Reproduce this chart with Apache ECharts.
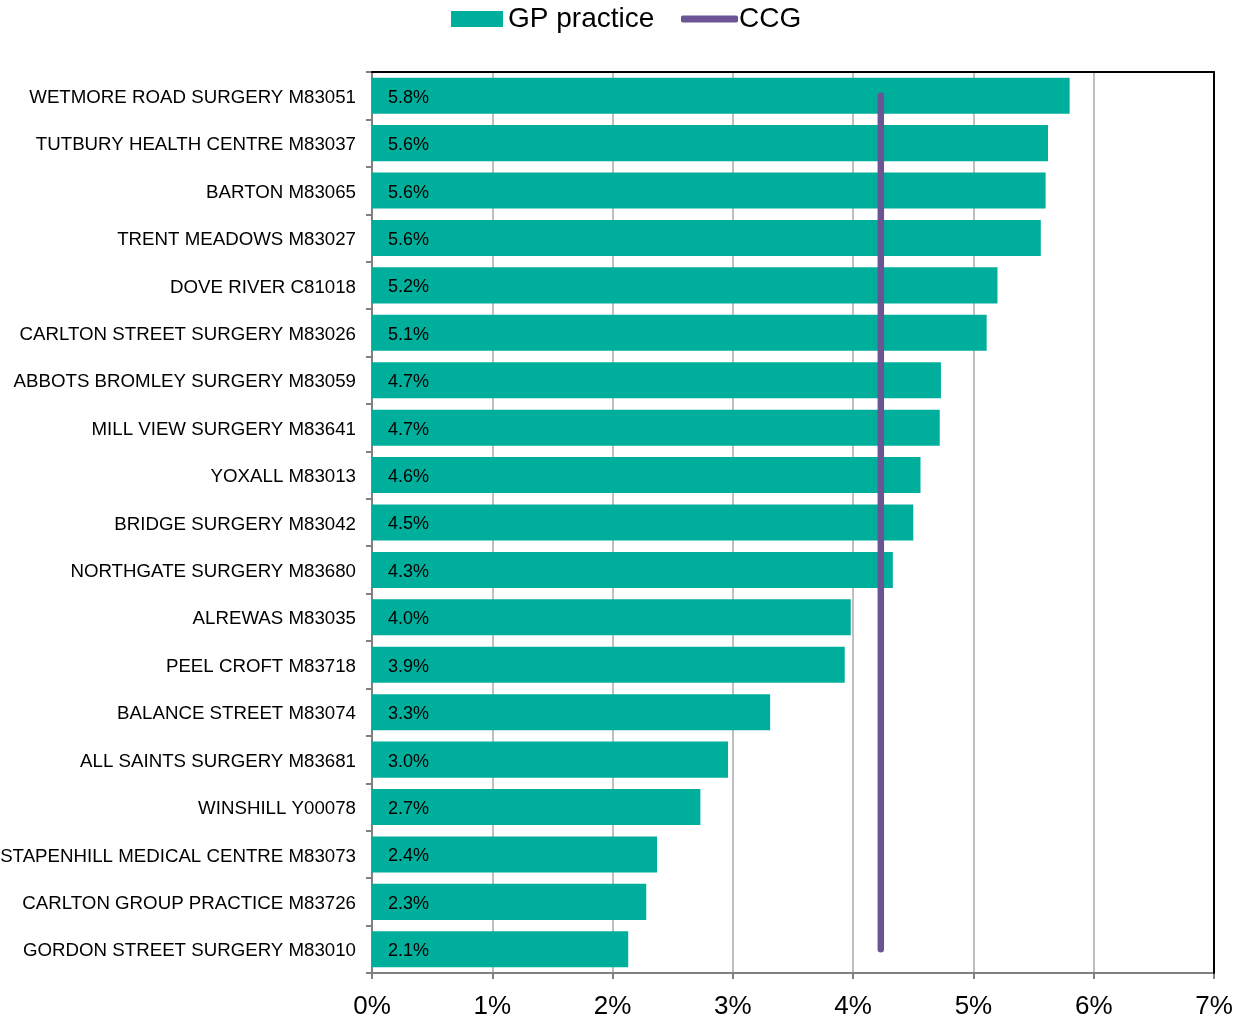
<!DOCTYPE html>
<html>
<head>
<meta charset="utf-8">
<script src="https://cdn.jsdelivr.net/npm/echarts@6/dist/echarts.min.js"></script>
<style>
html,body{margin:0;padding:0;background:#fff;}
#chart{width:1236px;height:1019px;}
</style>
</head>
<body>
<div id="chart"></div>
<script>
const practices = [
  'WETMORE ROAD SURGERY M83051',
  'TUTBURY HEALTH CENTRE M83037',
  'BARTON M83065',
  'TRENT MEADOWS M83027',
  'DOVE RIVER C81018',
  'CARLTON STREET SURGERY M83026',
  'ABBOTS BROMLEY SURGERY M83059',
  'MILL VIEW SURGERY M83641',
  'YOXALL M83013',
  'BRIDGE SURGERY M83042',
  'NORTHGATE SURGERY M83680',
  'ALREWAS M83035',
  'PEEL CROFT M83718',
  'BALANCE STREET M83074',
  'ALL SAINTS SURGERY M83681',
  'WINSHILL Y00078',
  'STAPENHILL MEDICAL CENTRE M83073',
  'CARLTON GROUP PRACTICE M83726',
  'GORDON STREET SURGERY M83010'
];
const gpValues = [5.80, 5.62, 5.60, 5.56, 5.20, 5.11, 4.73, 4.72, 4.56, 4.50, 4.33, 3.98, 3.93, 3.31, 2.96, 2.73, 2.37, 2.28, 2.13];
const ccgValues = [4.23, 4.23, 4.23, 4.23, 4.23, 4.23, 4.23, 4.23, 4.23, 4.23, 4.23, 4.23, 4.23, 4.23, 4.23, 4.23, 4.23, 4.23, 4.23];
const xTicks = [0, 1, 2, 3, 4, 5, 6, 7];

const chart = echarts.init(document.getElementById('chart'), null, {renderer: 'canvas'});
const FONT = 'Liberation Sans, Arial, sans-serif';
chart.setOption({
  animation: false,
  textStyle: {fontFamily: FONT},
  legend: [
    {
      data: ['GP practice'],
      left: 451, top: 5, padding: 0,
      itemWidth: 52, itemHeight: 16, icon: 'rect', itemGap: 0,
      textStyle: {fontSize: 28, color: '#000', fontFamily: FONT}
    },
    {
      data: ['CCG'],
      left: 681, top: 5, padding: 0,
      itemWidth: 57, itemHeight: 7, icon: 'roundRect',
      itemStyle: {color: '#6B5494'},
      textStyle: {fontSize: 28, color: '#000', fontFamily: FONT, padding: [0, 0, 0, -4]}
    }
  ],
  grid: {
    left: 372, right: 22, top: 72, bottom: 46,
    show: false, containLabel: false, outerBoundsMode: 'none'
  },
  xAxis: [
    {
      type: 'value', min: xTicks[0], max: xTicks[xTicks.length - 1], interval: 1,
      axisLine: {show: true, lineStyle: {color: '#808080', width: 2}},
      axisTick: {show: true, length: 6, lineStyle: {color: '#808080', width: 2}},
      splitLine: {show: true, lineStyle: {color: '#BFBFBF', width: 2}},
      axisLabel: {formatter: v => v + '%', fontSize: 26, color: '#000', margin: 21, fontFamily: FONT}
    },
    {
      type: 'value', position: 'top', min: xTicks[0], max: xTicks[xTicks.length - 1], interval: 1,
      axisLine: {show: true, onZero: false, lineStyle: {color: '#000', width: 2}},
      axisTick: {show: false}, axisLabel: {show: false}, splitLine: {show: false}, z: 5
    }
  ],
  yAxis: [
    {
      type: 'category', data: practices, inverse: true,
      axisLine: {show: true, onZero: false, lineStyle: {color: '#808080', width: 2}},
      axisTick: {show: true, length: 6, lineStyle: {color: '#808080', width: 2}},
      axisLabel: {
        color: '#000', margin: 16, fontFamily: FONT,
        formatter: v => '{a|' + v + '}',
        rich: {a: {fontSize: 18.7, color: '#000', fontFamily: FONT, padding: [4, 0, 0, 0]}}
      },
      splitLine: {show: false}
    },
    {
      type: 'category', data: practices, inverse: true, position: 'right',
      axisLine: {show: true, onZero: false, lineStyle: {color: '#000', width: 2}},
      axisTick: {show: false}, axisLabel: {show: false}, splitLine: {show: false}, z: 5
    }
  ],
  series: [
    {
      name: 'GP practice', type: 'bar', data: gpValues,
      barCategoryGap: '24%',
      itemStyle: {color: '#00AE9C'},
      label: {
        show: true, position: 'insideLeft', distance: 16, offset: [0, 2],
        formatter: p => p.value.toFixed(1) + '%',
        fontSize: 18, color: '#000', fontFamily: FONT
      },
      z: 2
    },
    {
      name: 'CCG', type: 'line', data: ccgValues,
      symbol: 'none', showSymbol: false,
      lineStyle: {color: '#6B5494', width: 6.5, cap: 'round'},
      itemStyle: {color: '#6B5494'},
      z: 3
    }
  ]
});
</script>
</body>
</html>
